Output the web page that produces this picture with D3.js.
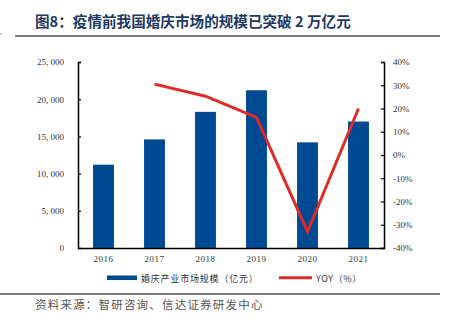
<!DOCTYPE html>
<html><head><meta charset="utf-8">
<script src="https://cdn.jsdelivr.net/npm/d3@7"></script>
<style>body{margin:0;background:#fff}svg{display:block}</style>
</head><body>
<svg id="c" width="451" height="323"></svg>
<script>
const years = ["2016","2017","2018","2019","2020","2021"];
const marketSize = [11200, 14600, 18300, 21200, 14200, 17000];
const yoyYears = ["2017","2018","2019","2020","2021"];
const yoy = [30.5, 25.3, 16.2, -33.0, 20.0];
const leftTicks = [0, 5000, 10000, 15000, 20000, 25000];
const rightTicks = [-40, -30, -20, -10, 0, 10, 20, 30, 40];

const svg = d3.select("#c");
const L = 78, R = 384, T = 62, B = 248;
const x = d3.scaleBand().domain(years).range([L, R]).paddingInner(0.59).paddingOuter(0.295);
const yL = d3.scaleLinear().domain([0, 25000]).range([B, T]);
const yR = d3.scaleLinear().domain([-40, 40]).range([B, T]);
const serif = "'Liberation Serif','Times New Roman',serif";
const cjk = "'Noto Sans CJK SC',sans-serif";

// title
svg.append("text").attr("x", 35).attr("y", 27).attr("font-family", cjk).attr("font-weight", "bold")
  .attr("font-size", 14.6).attr("fill", "#1f3864").text("图8：疫情前我国婚庆市场的规模已突破 2 万亿元");
svg.append("line").attr("x1", 15).attr("x2", 440).attr("y1", 36).attr("y2", 36).attr("stroke", "#555").attr("stroke-width", 1.5);
svg.append("circle").attr("cx", 1).attr("cy", 34).attr("r", 0.8).attr("fill", "#777");

// bars
svg.append("g").selectAll("rect").data(marketSize).join("rect")
  .attr("x", (d, i) => x(years[i])).attr("width", x.bandwidth())
  .attr("y", d => yL(d)).attr("height", d => B - yL(d)).attr("fill", "#004a93");

// axes
const fmt = d => d3.format(",")(d).replace(",", ", ");
const gl = svg.append("g").attr("transform", `translate(${L},0)`)
  .call(d3.axisRight(yL).tickValues(leftTicks).tickSize(3).tickFormat(fmt));
gl.selectAll("text").attr("x", -14).attr("text-anchor", "end");
const gr = svg.append("g").attr("transform", `translate(${R},0)`)
  .call(d3.axisLeft(yR).tickValues(rightTicks).tickSize(3).tickFormat(d => d + "%"));
gr.selectAll("text").attr("x", 9).attr("text-anchor", "start");
const gb = svg.append("g").attr("transform", `translate(0,${B})`)
  .call(d3.axisBottom(x).tickSize(0).tickPadding(8));
[gl, gr, gb].forEach(g => {
  g.select(".domain").attr("stroke", "#000").attr("stroke-width", 1.5);
  g.selectAll(".tick line").attr("stroke", "#000").attr("stroke-width", 1.2);
  g.selectAll("text").attr("font-family", serif).attr("font-size", 9).attr("fill", "#333");
});
gb.selectAll("text").attr("letter-spacing", 0.5);

// line
const line = d3.line().x((d, i) => x(yoyYears[i]) + x.bandwidth() / 2).y(d => yR(d));
svg.append("path").datum(yoy).attr("d", line).attr("fill", "none")
  .attr("stroke", "#e02a27").attr("stroke-width", 3);

// legend
svg.append("rect").attr("x", 107).attr("y", 275.5).attr("width", 30).attr("height", 4.5).attr("fill", "#004a93");
svg.append("text").attr("x", 141).attr("y", 282).attr("font-family", cjk).attr("font-size", 9)
  .attr("letter-spacing", 0.8).attr("fill", "#333").text("婚庆产业市场规模（亿元）");
svg.append("line").attr("x1", 279).attr("x2", 312).attr("y1", 277.7).attr("y2", 277.7).attr("stroke", "#e02a27").attr("stroke-width", 3);
svg.append("text").attr("x", 316).attr("y", 282).attr("font-family", cjk).attr("font-size", 9)
  .attr("letter-spacing", 0.6).attr("fill", "#333").text("YOY（%）");

// footer
svg.append("line").attr("x1", 0).attr("x2", 440).attr("y1", 294).attr("y2", 294).attr("stroke", "#555").attr("stroke-width", 1.5);
svg.append("text").attr("x", 35).attr("y", 309).attr("font-family", cjk).attr("font-size", 11.5)
  .attr("letter-spacing", 1.2).attr("fill", "#555").text("资料来源：智研咨询、信达证券研发中心");
</script>
</body></html>
